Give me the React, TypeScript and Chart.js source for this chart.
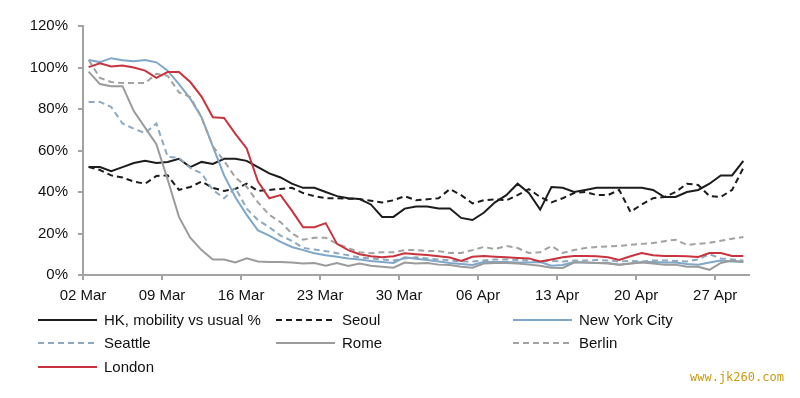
import React, { useEffect, useRef } from "react";
import { Chart, registerables } from "chart.js";

Chart.register(...registerables);

const categories = [
  "02 Mar", "03 Mar", "04 Mar", "05 Mar", "06 Mar", "07 Mar", "08 Mar",
  "09 Mar", "10 Mar", "11 Mar", "12 Mar", "13 Mar", "14 Mar", "15 Mar",
  "16 Mar", "17 Mar", "18 Mar", "19 Mar", "20 Mar", "21 Mar", "22 Mar",
  "23 Mar", "24 Mar", "25 Mar", "26 Mar", "27 Mar", "28 Mar", "29 Mar",
  "30 Mar", "31 Mar", "01 Apr", "02 Apr", "03 Apr", "04 Apr", "05 Apr",
  "06 Apr", "07 Apr", "08 Apr", "09 Apr", "10 Apr", "11 Apr", "12 Apr",
  "13 Apr", "14 Apr", "15 Apr", "16 Apr", "17 Apr", "18 Apr", "19 Apr",
  "20 Apr", "21 Apr", "22 Apr", "23 Apr", "24 Apr", "25 Apr", "26 Apr",
  "27 Apr", "28 Apr", "29 Apr",
];

const tickLabels = ["02 Mar", "09 Mar", "16 Mar", "23 Mar", "30 Mar", "06 Apr", "13 Apr", "20 Apr", "27 Apr"];
const yTickValues = [0, 20, 40, 60, 80, 100, 120];

const seriesNames = ["HK, mobility vs usual %", "Seoul", "New York City", "Seattle", "Rome", "Berlin", "London"];

const hk = [52, 52, 50, 52, 54, 55, 54, 54.5, 56, 52, 54.5, 53.5, 56, 56, 55, 52, 49, 47, 44, 42, 42, 40, 38, 37, 36.6, 34, 28, 28, 32, 33, 33, 32, 32, 27.5, 26.5, 30, 35, 38.5, 44, 39.5, 31.5, 42.4, 42, 40, 41, 42, 42, 42, 42, 42, 41, 37.6, 37.6, 40, 41, 44, 48, 48, 55];
const seoul = [52, 50.6, 48, 47, 45, 44, 47.7, 48, 41, 42.4, 45, 42, 40.5, 41.5, 44, 40.5, 41, 41.5, 42, 39.5, 38, 37, 37, 36.8, 36.6, 35.8, 35, 36, 38, 36, 36.5, 37, 41.4, 38.5, 34.5, 36, 36.5, 36, 38.5, 41.4, 37.6, 35, 37, 39.5, 40, 38.5, 38.5, 41, 30.4, 34, 37, 37.6, 40, 44, 43.4, 38, 37.6, 41, 51.6];
const newYork = [103.6, 102.6, 104.5, 103.5, 103, 103.6, 102.5, 98.5, 92, 85, 76, 62, 48, 37.5, 29, 21.5, 19, 16, 13.5, 12, 10.5, 9.5, 8.8, 8, 7.5, 6.8, 6.3, 5.8, 8.5, 7.8, 7.2, 6.5, 5.8, 5.3, 4.8, 6.3, 6.3, 6.3, 6, 6, 6.3, 4.5, 4.8, 6.3, 6, 5.8, 5.8, 5, 5.5, 6.3, 6.3, 6, 6, 5.3, 5, 6, 7, 6.5, 6.3];
const seattle = [83.4, 83.4, 81, 73, 70.5, 68.4, 73, 57, 56.4, 51.6, 49, 41, 37, 42, 32, 26.5, 23, 19, 16.5, 13, 12.3, 11.5, 10.5, 9.5, 8.5, 8, 7.5, 7, 8, 8.5, 8, 7.5, 7, 6.5, 6.5, 7, 7.5, 7.5, 7.2, 7, 6.5, 6.8, 6.5, 7, 7, 7.2, 7, 6.5, 6.8, 6.5, 7, 7, 6.8, 6.5, 7.5, 10, 8, 7.5, 7];
const rome = [98, 92, 91, 91, 79, 71, 63, 46, 28, 18, 12, 7.5, 7.5, 6, 8, 6.5, 6.3, 6.3, 6, 5.5, 5.8, 4.5, 5.8, 4.3, 5.5, 4.5, 4, 3.5, 6, 5.5, 5.8, 5, 4.8, 4, 3.5, 5.5, 5.8, 5.8, 5.5, 5, 4.5, 3.5, 3.4, 6, 6, 5.8, 5.5, 5, 5.5, 6, 5.5, 5, 5, 4, 4, 2.5, 5.8, 7, 6.3];
const berlin = [103.6, 95, 93, 92.5, 92.5, 92.5, 97, 96, 88, 85.8, 76, 62, 55, 47, 42.5, 35, 29, 25.5, 20, 17, 18, 18, 15, 13, 11, 10.5, 11, 11, 12, 12, 11.6, 11.5, 10.6, 10.6, 12, 13.5, 12.5, 14, 13, 10.6, 11, 14, 10.6, 12, 13, 13.5, 13.8, 14, 14.5, 15, 15.4, 16.3, 17, 14.5, 15, 15.5, 16.5, 17.5, 18.3];
const london = [100.2, 102, 100.5, 101, 100, 98.5, 95, 97.8, 97.8, 93, 86, 76, 75.7, 68, 61, 45, 37, 38.5, 31, 23, 23, 25, 15, 12, 10, 9, 8.5, 9, 10.5, 10, 9.6, 9, 8.4, 6.8, 8.8, 9.2, 8.8, 8.5, 8.2, 8, 6.5, 7.5, 8.5, 9.2, 9.2, 9, 8.5, 7.2, 9, 10.6, 9.5, 9.2, 9.2, 9, 8.7, 10.6, 10.6, 9.2, 9.2];

const FONT = '"Liberation Sans", Arial, sans-serif';

export default function App() {
  const ref = useRef<HTMLCanvasElement>(null);

  useEffect(() => {
    const series = [hk, seoul, newYork, seattle, rome, berlin, london];
    const styles = [
      { color: "#1c1c1c", dash: [] as number[] },
      { color: "#1c1c1c", dash: [6, 4] },
      { color: "#7fa7c9", dash: [] as number[] },
      { color: "#8ea9bf", dash: [6, 4] },
      { color: "#9b9b9b", dash: [] as number[] },
      { color: "#a2a2a2", dash: [6, 4] },
      { color: "#c8333d", dash: [] as number[] },
    ];
    const datasets = series.map((s, i) => ({
      label: seriesNames[i],
      data: s.map((v, j) => ({ x: j + 0.5, y: v })),
      borderColor: styles[i].color,
      backgroundColor: styles[i].color,
      borderDash: styles[i].dash,
      borderWidth: 2,
      pointRadius: 0,
      tension: 0,
      fill: false,
      order: series.length - i,
    }));

    const gridLegend = {
      id: "gridLegend",
      afterDraw(chart: any) {
        const ctx = chart.ctx;
        const cols = [38, 276, 513];
        const rows = [320, 343, 367];
        chart.data.datasets.forEach((ds: any, i: number) => {
          const x = cols[i % 3];
          const y = rows[Math.floor(i / 3)];
          ctx.save();
          ctx.strokeStyle = ds.borderColor;
          ctx.lineWidth = 2;
          ctx.setLineDash(ds.borderDash || []);
          ctx.beginPath();
          ctx.moveTo(x, y);
          ctx.lineTo(x + 59, y);
          ctx.stroke();
          ctx.setLineDash([]);
          ctx.fillStyle = "#111";
          ctx.font = "15px " + FONT;
          ctx.textBaseline = "middle";
          ctx.textAlign = "left";
          ctx.fillText(ds.label, x + 66, y + 1);
          ctx.restore();
        });
      },
    };

    const axisColor = "#a3a3a3";
    const chart = new Chart(ref.current as HTMLCanvasElement, {
      type: "line",
      data: { datasets: datasets as any },
      plugins: [gridLegend],
      options: {
        animation: false,
        responsive: false,
        maintainAspectRatio: false,
        layout: { padding: { left: 0, right: 51, top: 26, bottom: 93 } },
        plugins: { legend: { display: false }, tooltip: { enabled: false }, title: { display: false } },
        scales: {
          x: {
            type: "linear",
            min: 0,
            max: categories.length,
            afterBuildTicks: (axis: any) => {
              axis.ticks = tickLabels.map((l) => ({ value: categories.indexOf(l) }));
            },
            afterFit: (axis: any) => {
              axis.height = 30;
            },
            ticks: {
              autoSkip: false,
              maxRotation: 0,
              padding: 7,
              color: "#111",
              font: { family: FONT, size: 15 },
              callback: (v: any) => categories[Number(v)],
            },
            grid: { display: true, drawOnChartArea: false, drawTicks: true, tickLength: 5, color: axisColor, lineWidth: 2 },
            border: { display: true, color: axisColor, width: 2 },
          },
          y: {
            min: 0,
            max: 120,
            afterBuildTicks: (axis: any) => {
              axis.ticks = yTickValues.map((v) => ({ value: v }));
            },
            afterFit: (axis: any) => {
              axis.width = 83;
            },
            ticks: {
              padding: 10,
              color: "#111",
              font: { family: FONT, size: 15 },
              callback: (v: any) => v + "%",
            },
            grid: { display: true, drawOnChartArea: false, drawTicks: true, tickLength: 5, color: axisColor, lineWidth: 2 },
            border: { display: true, color: axisColor, width: 2 },
          },
        },
      },
    });
    return () => chart.destroy();
  }, []);

  return (
    <div style={{ position: "absolute", left: 0, top: 0, width: 800, height: 398, background: "#fff" }}>
      <canvas ref={ref} width={800} height={398} style={{ width: 800, height: 398, display: "block" }} />
      <div
        style={{
          position: "absolute",
          left: 690,
          top: 370,
          fontFamily: '"DejaVu Sans Mono", monospace',
          fontSize: 12,
          color: "#c89a10",
          whiteSpace: "nowrap",
        }}
      >
        www.jk260.com
      </div>
    </div>
  );
}
